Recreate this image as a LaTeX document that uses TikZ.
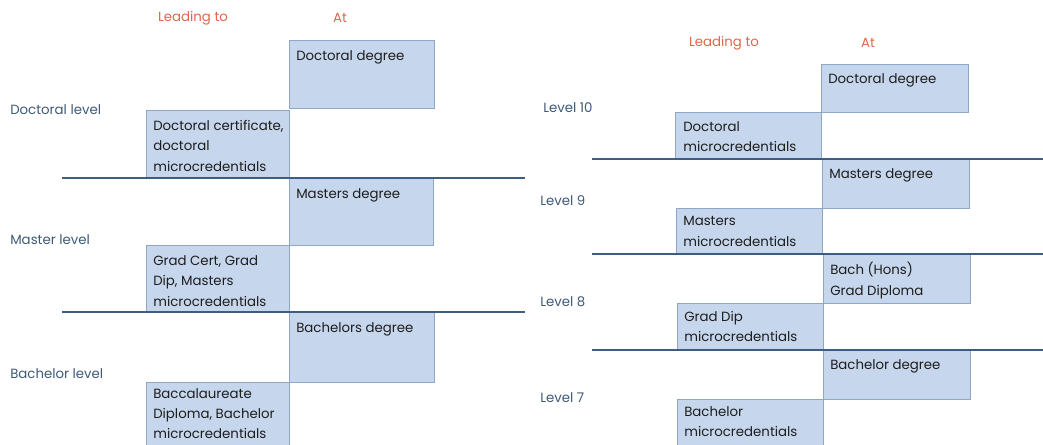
\documentclass[tikz,border=0pt]{standalone}
\usepackage{fontspec}
\setmainfont{Poppins}
\definecolor{boxfill}{HTML}{C6D6EC}
\definecolor{boxdraw}{HTML}{8FA6C6}
\definecolor{sepline}{HTML}{3F5D80}
\definecolor{lvltext}{HTML}{3E5A78}
\definecolor{headtext}{HTML}{D9694A}
\definecolor{boxtext}{HTML}{1E1E1E}
\tikzset{
  qbox/.style={draw=boxdraw, fill=boxfill, line width=0.8pt, inner sep=0pt, anchor=north west},
  qtext/.style={anchor=north west, inner sep=0pt, align=left, text=boxtext, font=\fontsize{10}{15.4}\selectfont},
  lvl/.style={anchor=west, inner sep=0pt, text=lvltext, font=\fontsize{10}{13}\selectfont},
  head/.style={anchor=center, inner sep=0pt, text=headtext, font=\fontsize{10}{12}\selectfont},
  sep/.style={draw=sepline, line width=1.4pt},
}
\begin{document}
\begin{tikzpicture}[x=0.75pt, y=-0.75pt]
\useasboundingbox (0,0) rectangle (1043,444);
% ---------- left panel ----------
\node[head] (hL1) at (193,18) {Leading to};
\node[head] (hL2) at (340,18) {At};
\node[qbox, minimum width=145*0.75pt, minimum height=68*0.75pt] (bL1) at (289,40) {};
\node[qbox, minimum width=143*0.75pt, minimum height=68*0.75pt] (bL2) at (146,110) {};
\node[qbox, minimum width=144*0.75pt, minimum height=67*0.75pt] (bL3) at (289,178) {};
\node[qbox, minimum width=143*0.75pt, minimum height=67*0.75pt] (bL4) at (146,245) {};
\node[qbox, minimum width=145*0.75pt, minimum height=70*0.75pt] (bL5) at (289,312) {};
\node[qbox, minimum width=143*0.75pt, minimum height=70*0.75pt] (bL6) at (146,382) {};
\node[qtext] (tL1) at (296,50) {Doctoral degree};
\node[qtext] (tL2) at (153,120) {Doctoral certificate,\\doctoral\\microcredentials};
\node[qtext] (tL3) at (296,188) {Masters degree};
\node[qtext] (tL4) at (153,255) {Grad Cert, Grad\\Dip, Masters\\microcredentials};
\node[qtext] (tL5) at (296,322) {Bachelors degree};
\node[qtext, font=\fontsize{10}{15}\selectfont] (tL6) at (153,388) {Baccalaureate\\Diploma, Bachelor\\microcredentials};
\node[lvl] (lL1) at (10,110) {Doctoral level};
\node[lvl] (lL2) at (10,240) {Master level};
\node[lvl] (lL3) at (10,374) {Bachelor level};
\coordinate (sL1a) at (62,178); \coordinate (sL1b) at (525,178);
\coordinate (sL2a) at (62,312); \coordinate (sL2b) at (525,312);
\draw[sep] (sL1a) -- (sL1b);
\draw[sep] (sL2a) -- (sL2b);
% ---------- right panel ----------
\node[head] (hR1) at (724,43) {Leading to};
\node[head] (hR2) at (868,43) {At};
\node[qbox, minimum width=147*0.75pt, minimum height=48*0.75pt] (bR1) at (821,64) {};
\node[qbox, minimum width=146*0.75pt, minimum height=47*0.75pt] (bR2) at (675,112) {};
\node[qbox, minimum width=147*0.75pt, minimum height=49*0.75pt] (bR3) at (822,159) {};
\node[qbox, minimum width=146*0.75pt, minimum height=46*0.75pt] (bR4) at (676,208) {};
\node[qbox, minimum width=147*0.75pt, minimum height=49*0.75pt] (bR5) at (823,254) {};
\node[qbox, minimum width=146*0.75pt, minimum height=47*0.75pt] (bR6) at (677,303) {};
\node[qbox, minimum width=147*0.75pt, minimum height=49*0.75pt] (bR7) at (823,350) {};
\node[qbox, minimum width=146*0.75pt, minimum height=46*0.75pt] (bR8) at (677,399) {};
\node[qtext] (tR1) at (828,73) {Doctoral degree};
\node[qtext] (tR2) at (683,121) {Doctoral\\microcredentials};
\node[qtext] (tR3) at (829,168) {Masters degree};
\node[qtext] (tR4) at (683,216) {Masters\\microcredentials};
\node[qtext] (tR5) at (830,262) {Bach (Hons)\\Grad Diploma};
\node[qtext] (tR6) at (684,311) {Grad Dip\\microcredentials};
\node[qtext] (tR7) at (830,359) {Bachelor degree};
\node[qtext] (tR8) at (684,406) {Bachelor\\microcredentials};
\node[lvl] (lR1) at (543,108) {Level 10};
\node[lvl] (lR2) at (540,201) {Level 9};
\node[lvl] (lR3) at (540,302) {Level 8};
\node[lvl] (lR4) at (540,398) {Level 7};
\coordinate (sR1a) at (592,159); \coordinate (sR1b) at (1043,159);
\coordinate (sR2a) at (592,254); \coordinate (sR2b) at (1043,254);
\coordinate (sR3a) at (592,350); \coordinate (sR3b) at (1043,350);
\draw[sep] (sR1a) -- (sR1b);
\draw[sep] (sR2a) -- (sR2b);
\draw[sep] (sR3a) -- (sR3b);
\end{tikzpicture}
\end{document}
